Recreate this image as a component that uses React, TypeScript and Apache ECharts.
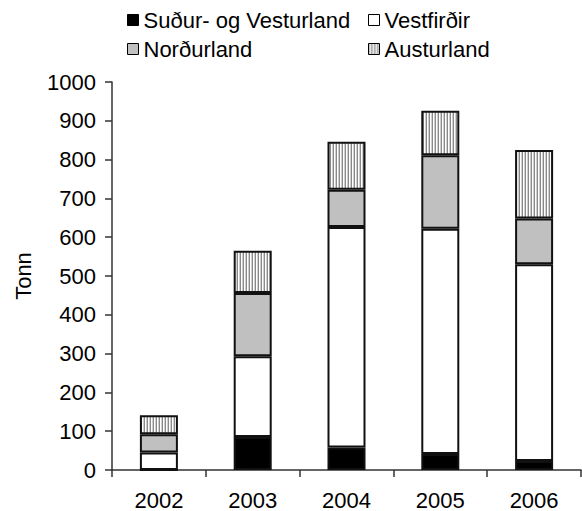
import React, { useEffect, useRef } from "react";
import * as echarts from "echarts";

const categories = ["2002", "2003", "2004", "2005", "2006"];
const sudurVesturland = [0, 85, 58, 41, 23];
const vestfirdir = [45, 208, 568, 581, 507];
const nordurland = [47, 163, 96, 189, 118];
const austurland = [49, 109, 124, 115, 177];
const seriesNames = ["Suður- og Vesturland", "Vestfirðir", "Norðurland", "Austurland"];
const yTicks = [0, 100, 200, 300, 400, 500, 600, 700, 800, 900, 1000];

const FONT = 'Arial, "Liberation Sans", sans-serif';
const FS = 22;

function makeStripePattern(): HTMLCanvasElement {
  const c = document.createElement("canvas");
  c.width = 3;
  c.height = 4;
  const ctx = c.getContext("2d")!;
  ctx.fillStyle = "#ffffff";
  ctx.fillRect(0, 0, 3, 4);
  ctx.fillStyle = "#8a8a8a";
  ctx.fillRect(0, 0, 1, 4);
  ctx.fillStyle = "#cfcfcf";
  ctx.fillRect(2, 0, 1, 4);
  return c;
}

export default function App() {
  const ref = useRef<HTMLDivElement>(null);
  useEffect(() => {
    if (!ref.current) return;
    const chart = echarts.init(ref.current, undefined, { renderer: "svg" });
    const stripe = { image: makeStripePattern(), repeat: "repeat" };
    const colors: any[] = ["#000000", "#ffffff", "#c0c0c0", stripe];
    const datas = [sudurVesturland, vestfirdir, nordurland, austurland];
    const legendPos = [
      { left: 127, top: 9 },
      { left: 368, top: 9 },
      { left: 127, top: 38 },
      { left: 368, top: 38 },
    ];
    chart.setOption({
      animation: false,
      backgroundColor: "#ffffff",
      textStyle: { fontFamily: FONT, color: "#000" },
      legend: seriesNames.map((n, i) => ({
        data: [n],
        left: legendPos[i].left,
        top: legendPos[i].top,
        padding: 0,
        icon: "rect",
        itemWidth: 11,
        itemHeight: 11,
        itemStyle: { borderColor: "#000", borderWidth: 1 },
        textStyle: { fontFamily: FONT, fontSize: FS, color: "#000" },
        selectedMode: false,
      })),
      grid: { left: 112, right: 1, top: 82, bottom: 40 },
      xAxis: {
        type: "category",
        data: categories,
        axisLine: { lineStyle: { color: "#333", width: 1.5 } },
        axisTick: { show: true, length: 7, lineStyle: { color: "#333", width: 1.5 } },
        axisLabel: { fontFamily: FONT, fontSize: FS, color: "#000", margin: 19 },
      },
      yAxis: {
        type: "value",
        min: yTicks[0],
        max: yTicks[yTicks.length - 1],
        interval: 100,
        name: "Tonn",
        nameLocation: "middle",
        nameRotate: 90,
        nameGap: 78,
        nameTextStyle: { fontFamily: FONT, fontSize: FS, color: "#000" },
        splitLine: { show: false },
        axisLine: { show: true, lineStyle: { color: "#333", width: 1.5 } },
        axisTick: { show: true, length: 7, lineStyle: { color: "#333", width: 1.5 } },
        axisLabel: {
          fontFamily: FONT,
          fontSize: FS,
          color: "#000",
          margin: 16,
          formatter: (v: number) => String(v),
        },
      },
      series: seriesNames.map((n, i) => ({
        name: n,
        type: "bar",
        stack: "total",
        barWidth: 38,
        data: datas[i],
        itemStyle: { color: colors[i], borderColor: "#111", borderWidth: 2 },
      })),
    });
    return () => chart.dispose();
  }, []);
  return <div ref={ref} style={{ width: 582, height: 511, position: "absolute", left: 0, top: 0 }} />;
}
